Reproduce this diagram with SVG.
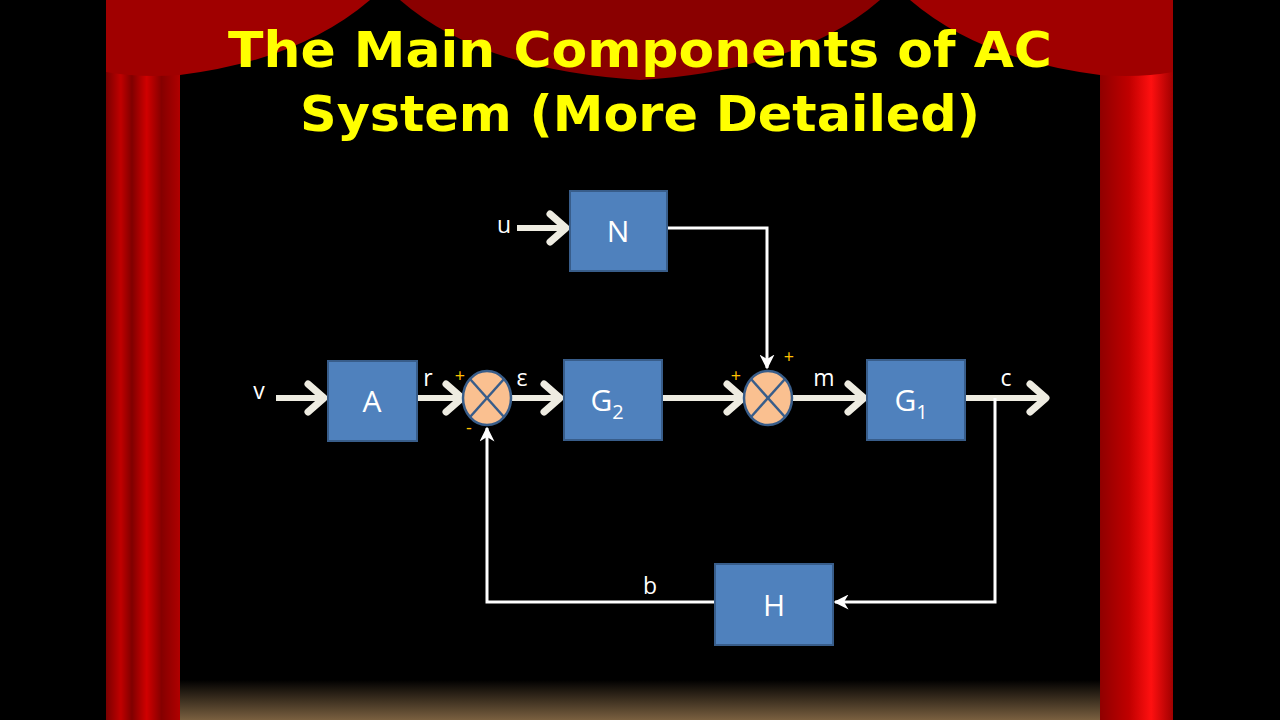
<svg xmlns="http://www.w3.org/2000/svg" width="1280" height="720" viewBox="0 0 1280 720">
<defs>
<linearGradient id="col" x1="0" x2="1" y1="0" y2="0">
<stop offset="0" stop-color="#7a0000"/><stop offset="0.2" stop-color="#c00000"/><stop offset="0.35" stop-color="#800000"/><stop offset="0.55" stop-color="#d00000"/><stop offset="0.75" stop-color="#850000"/><stop offset="1" stop-color="#b00000"/>
</linearGradient>
<linearGradient id="colR" x1="0" x2="1" y1="0" y2="0">
<stop offset="0" stop-color="#900000"/><stop offset="0.4" stop-color="#c00000"/><stop offset="0.7" stop-color="#ff1010"/><stop offset="1" stop-color="#a00000"/>
</linearGradient>
<linearGradient id="floor" x1="0" x2="0" y1="0" y2="1">
<stop offset="0" stop-color="#000"/><stop offset="1" stop-color="#7a6040"/>
</linearGradient>
<marker id="thin" viewBox="0 0 10 10" refX="9" refY="5" markerWidth="5" markerHeight="5" orient="auto"><path d="M0,0 L10,5 L0,10 L3,5 z" fill="#fff"/></marker>
<style>
.blk{fill:#4f81bd;stroke:#385d8a;stroke-width:2}
.lbl{font-family:"Open Sans","Liberation Sans",sans-serif;fill:#fff;font-size:30px;text-anchor:middle}
.sm{font-family:"Open Sans","Liberation Sans",sans-serif;fill:#fff;font-size:23px;text-anchor:middle}
.sg{font-family:"Open Sans","Liberation Sans",sans-serif;fill:#ffc000;font-size:18px;text-anchor:middle}
.fat{stroke:#eeece1;stroke-width:6;fill:none}
.chev{stroke:#eeece1;stroke-width:7;fill:none;stroke-linecap:round;stroke-linejoin:round}
.thin{stroke:#fff;stroke-width:3;fill:none}
.sum{fill:#fac090;stroke:#385d8a;stroke-width:2.5}
.x{stroke:#385d8a;stroke-width:2.5}
.title{font-family:"DejaVu Sans","Liberation Sans",sans-serif;font-weight:bold;fill:#ffff00;font-size:50px;text-anchor:middle}
</style>
</defs>
<rect width="1280" height="720" fill="#000"/>
<rect x="180" y="680" width="920" height="40" fill="url(#floor)"/>
<rect x="106" y="60" width="74" height="660" fill="url(#col)"/>
<rect x="1100" y="60" width="73" height="660" fill="url(#colR)"/>
<path d="M106,0 H370 Q300,60 180,75 Q140,78 106,72 Z" fill="#a00000"/>
<path d="M400,0 H880 Q800,70 640,80 Q480,70 400,0 Z" fill="#8a0000"/>
<path d="M1173,0 H910 Q980,60 1100,75 Q1140,78 1173,72 Z" fill="#a00000"/>
<text class="title" x="640" y="67" textLength="824" lengthAdjust="spacingAndGlyphs">The Main Components of AC</text>
<text class="title" x="640" y="131" textLength="680" lengthAdjust="spacingAndGlyphs">System (More Detailed)</text>
<g id="connectors">
<line class="fat" x1="276" y1="398" x2="322" y2="398"/><polyline class="chev" points="308,384 324,398 308,412"/>
<line class="fat" x1="417" y1="398" x2="458" y2="398"/><polyline class="chev" points="446,384 462,398 446,412"/>
<line class="fat" x1="511" y1="398" x2="558" y2="398"/><polyline class="chev" points="544,384 560,398 544,412"/>
<line class="fat" x1="662" y1="398" x2="740" y2="398"/><polyline class="chev" points="727,384 743,398 727,412"/>
<line class="fat" x1="792" y1="398" x2="862" y2="398"/><polyline class="chev" points="848,384 864,398 848,412"/>
<line class="fat" x1="965" y1="398" x2="1044" y2="398"/><polyline class="chev" points="1030,384 1046,398 1030,412"/>
<line class="fat" x1="517" y1="228" x2="564" y2="228"/><polyline class="chev" points="550,214 566,228 550,242"/>
<polyline class="thin" points="667,228 767,228 767,368" marker-end="url(#thin)"/>
<polyline class="thin" points="995,398 995,602 835,602" marker-end="url(#thin)"/>
<polyline class="thin" points="715,602 487,602 487,428" marker-end="url(#thin)"/>
</g>
<g id="A"><rect class="blk" x="328" y="361" width="89" height="80"/><text class="lbl" x="372" y="412">A</text></g>
<g id="N"><rect class="blk" x="570" y="191" width="97" height="80"/><text class="lbl" x="618" y="242">N</text></g>
<g id="G2"><rect class="blk" x="564" y="360" width="98" height="80"/><text class="lbl" x="607" y="411">G<tspan font-size="20" dy="8">2</tspan></text></g>
<g id="G1"><rect class="blk" x="867" y="360" width="98" height="80"/><text class="lbl" x="911" y="411">G<tspan font-size="20" dy="8">1</tspan></text></g>
<g id="H"><rect class="blk" x="715" y="564" width="118" height="81"/><text class="lbl" x="774" y="616">H</text></g>
<g id="S1"><ellipse class="sum" cx="487" cy="398" rx="24" ry="27"/><line class="x" x1="470" y1="379" x2="504" y2="417"/><line class="x" x1="504" y1="379" x2="470" y2="417"/></g>
<g id="S2"><ellipse class="sum" cx="768" cy="398" rx="24" ry="27"/><line class="x" x1="751" y1="379" x2="785" y2="417"/><line class="x" x1="785" y1="379" x2="751" y2="417"/></g>
<text class="sm" x="259" y="399">v</text>
<text class="sm" x="428" y="386">r</text>
<text class="sm" x="522" y="386">ε</text>
<text class="sm" x="824" y="386">m</text>
<text class="sm" x="1006" y="386">c</text>
<text class="sm" x="504" y="233">u</text>
<text class="sm" x="650" y="594">b</text>
<text class="sg" x="460" y="382">+</text>
<text class="sg" x="469" y="434">-</text>
<text class="sg" x="736" y="382">+</text>
<text class="sg" x="789" y="363">+</text>
</svg>
